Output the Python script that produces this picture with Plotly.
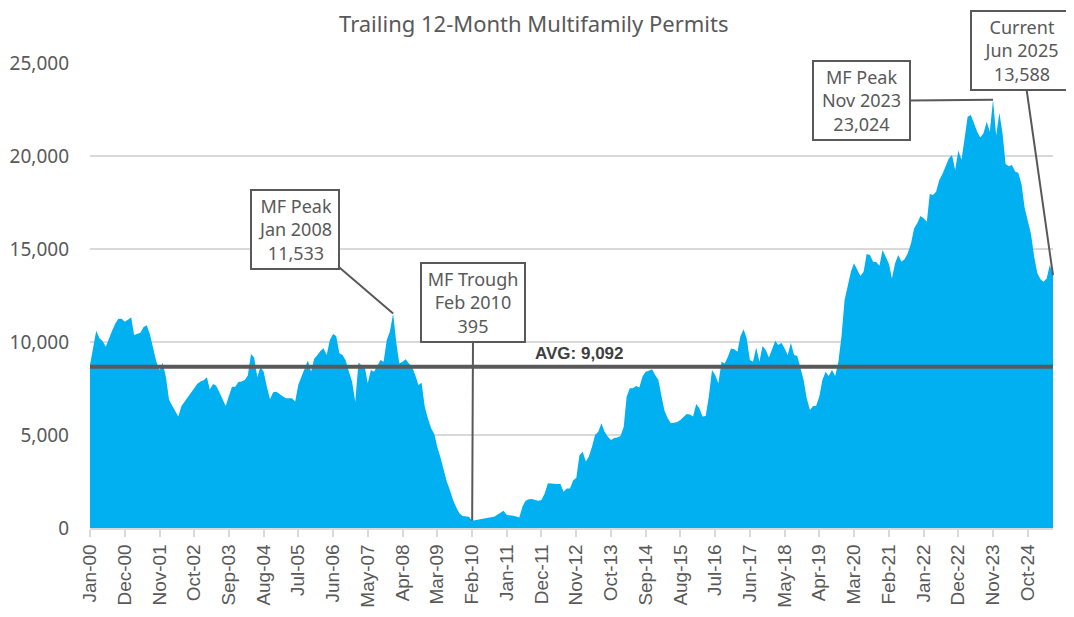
import pandas as pd
import plotly.graph_objects as go

# ---------------- data ----------------
start_month = "2000-01-01"
n_months = 306  # Jan 2000 .. Jun 2025

permits_2000_2004 = [
    8760, 9800, 10600, 10200, 10050, 9750, 10200, 10600, 11000, 11250, 11250, 11090,
    11200, 11330, 10380, 10450, 10500, 10800, 10900, 10400, 9700, 8950, 8490, 8890,
    8140, 6900, 6600, 6300, 5990, 6560, 6800, 7000, 7250, 7550, 7750, 7870,
    7950, 8100, 7450, 7740, 7650, 7300, 6900, 6560, 7100, 7600, 7600, 7850,
    7870, 7960, 8200, 9350, 9170, 8100, 8670, 8400, 7600, 6920, 7300, 7330,
]
permits_2005_2009 = [
    7200, 7060, 6970, 6980, 6970, 6800, 7700, 8140, 8600, 9000, 8400, 9100,
    9300, 9530, 9660, 9300, 10110, 10430, 10320, 9390, 9300, 9000, 8400, 7870,
    6790, 8900, 8750, 8710, 7780, 8490, 8400, 8700, 9030, 8940, 10110, 10560,
    11533, 9930, 8850, 8940, 9070, 8850, 8670, 8230, 7690, 7810, 6520, 5900,
    5360, 5050, 4370, 3800, 3120, 2500, 2040, 1500, 1100, 790, 650, 610,
]
permits_2010_2014 = [
    600, 395, 430, 460, 490, 520, 550, 580, 610, 720, 820, 930,
    700, 690, 660, 620, 570, 1150, 1470, 1550, 1560, 1500, 1470, 1510,
    1860, 2400, 2380, 2370, 2370, 2370, 1950, 2130, 2130, 2550, 2700, 3900,
    4100, 3570, 3830, 4370, 5000, 5180, 5630, 5180, 4900, 4730, 4840, 4860,
    4950, 5450, 7060, 7510, 7510, 7630, 7560, 8140, 8400, 8450, 8530, 8230,
]
permits_2015_2019 = [
    7960, 7060, 6300, 5900, 5630, 5660, 5700, 5810, 6000, 6130, 6100, 5990,
    6670, 6430, 5990, 6020, 7060, 8490, 8230, 7780, 8940, 8840, 9210, 9650,
    9610, 9480, 10290, 10680, 10200, 9030, 8940, 9710, 8940, 9780, 9570, 9170,
    9610, 10070, 9840, 9960, 9660, 9300, 9960, 9300, 9250, 8670, 7960, 6970,
    6340, 6560, 6560, 7060, 7960, 8400, 8170, 8490, 8170, 8900, 10290, 12260,
]
permits_2020_2025 = [
    13000, 13800, 14230, 13870, 13550, 13780, 14730, 14680, 14320, 14300, 14100, 14950,
    14600, 14200, 13420, 14230, 14680, 14320, 14450, 14770, 15300, 16100, 16400, 16770,
    16650, 16470, 17960, 17900, 18080, 18710, 19030, 19430, 19870, 20050, 19250, 20300,
    19800, 21000, 22110, 22200, 21750, 21310, 21000, 21220, 21840, 21300, 23024, 21100,
    22330, 21200, 19570, 19450, 19510, 19160, 19100, 18500, 17200, 16500, 15800, 14600,
    13700, 13380, 13240, 13420, 14140, 13588,
]
permits = (permits_2000_2004 + permits_2005_2009 + permits_2010_2014
           + permits_2015_2019 + permits_2020_2025)

avg_line_level = 8670
avg_label = "AVG: 9,092"
chart_title = "Trailing 12-Month Multifamily Permits"

tick_labels = ["Jan-00", "Dec-00", "Nov-01", "Oct-02", "Sep-03", "Aug-04", "Jul-05",
               "Jun-06", "May-07", "Apr-08", "Mar-09", "Feb-10", "Jan-11", "Dec-11",
               "Nov-12", "Oct-13", "Sep-14", "Aug-15", "Jul-16", "Jun-17", "May-18",
               "Apr-19", "Mar-20", "Feb-21", "Jan-22", "Dec-22", "Nov-23", "Oct-24"]

callouts = [
    # (date, value, text, ax, ay, width)
    ("2008-01-01", 11533, "MF Peak<br>Jan 2008<br>11,533", -98, -84, 80),
    ("2010-02-01", 395, "MF Trough<br>Feb 2010<br>395", 1, -218, 96),
    ("2023-11-01", 23024, "MF Peak<br>Nov 2023<br>23,024", -132, 1, 89),
    ("2025-06-01", 13588, "Current<br>Jun 2025<br>13,588", -32, -225, 92),
]

# ---------------- figure ----------------
months = pd.date_range(start_month, periods=n_months, freq="MS")
tick_vals = [pd.to_datetime(t, format="%b-%y") for t in tick_labels]

grey_txt = "#595959"
grid = "#d9d9d9"

fig = go.Figure()
fig.add_trace(go.Scatter(
    x=months, y=permits, mode="lines", fill="tozeroy",
    line=dict(width=0, color="#00b0f0"), fillcolor="#00b0f0",
    hoverinfo="x+y", showlegend=False,
))
fig.add_trace(go.Scatter(
    x=[months[0], months[-1]], y=[avg_line_level, avg_line_level], mode="lines",
    line=dict(width=4, color="#595959"), showlegend=False, hoverinfo="skip",
))

fig.add_annotation(
    x="2012-12-01", y=avg_line_level, xref="x", yref="y", text="<b>" + avg_label + "</b>",
    showarrow=False, yanchor="bottom", yshift=2,
    font=dict(family="Liberation Sans, Arial, sans-serif", size=17, color="#404040"),
)

# chart title as a paper-anchored annotation
fig.add_annotation(
    x=0.461, y=1.085, xref="paper", yref="paper", text=chart_title,
    showarrow=False, xanchor="center", yanchor="middle",
    font=dict(family="Noto Sans, sans-serif", size=22, color=grey_txt),
)

for d, v, txt, ax, ay, w in callouts:
    fig.add_annotation(
        x=d, y=v, xref="x", yref="y", text=txt, showarrow=True,
        arrowhead=0, arrowwidth=2, arrowcolor="#595959", standoff=0,
        ax=ax, ay=ay, bgcolor="white", bordercolor="#595959", borderwidth=2,
        borderpad=3, width=w, align="center",
        font=dict(family="Noto Sans, sans-serif", size=18, color=grey_txt),
    )

fig.update_layout(
    width=1066, height=609,
    margin=dict(l=82, r=21, t=55, b=89, autoexpand=False),
    paper_bgcolor="white", plot_bgcolor="white",
    xaxis=dict(
        type="date", range=[months[0], months[-1]], automargin=False,
        tickvals=tick_vals, ticktext=tick_labels, tickangle=-90,
        showgrid=False, showline=True, linecolor=grid, linewidth=1.5,
        ticks="outside", ticklen=7, tickcolor=grid, tickwidth=1.5,
        tickfont=dict(family="Liberation Sans, Arial, sans-serif", size=19, color=grey_txt),
        zeroline=False,
    ),
    yaxis=dict(
        range=[0, 25000], dtick=5000, tickformat=",", automargin=False,
        showgrid=True, gridcolor=grid, gridwidth=1.5, zeroline=False,
        showline=False, ticks="", ticklabelstandoff=20,
        tickfont=dict(family="Noto Sans, sans-serif", size=19, color=grey_txt),
    ),
)

fig.write_html("out.html")
